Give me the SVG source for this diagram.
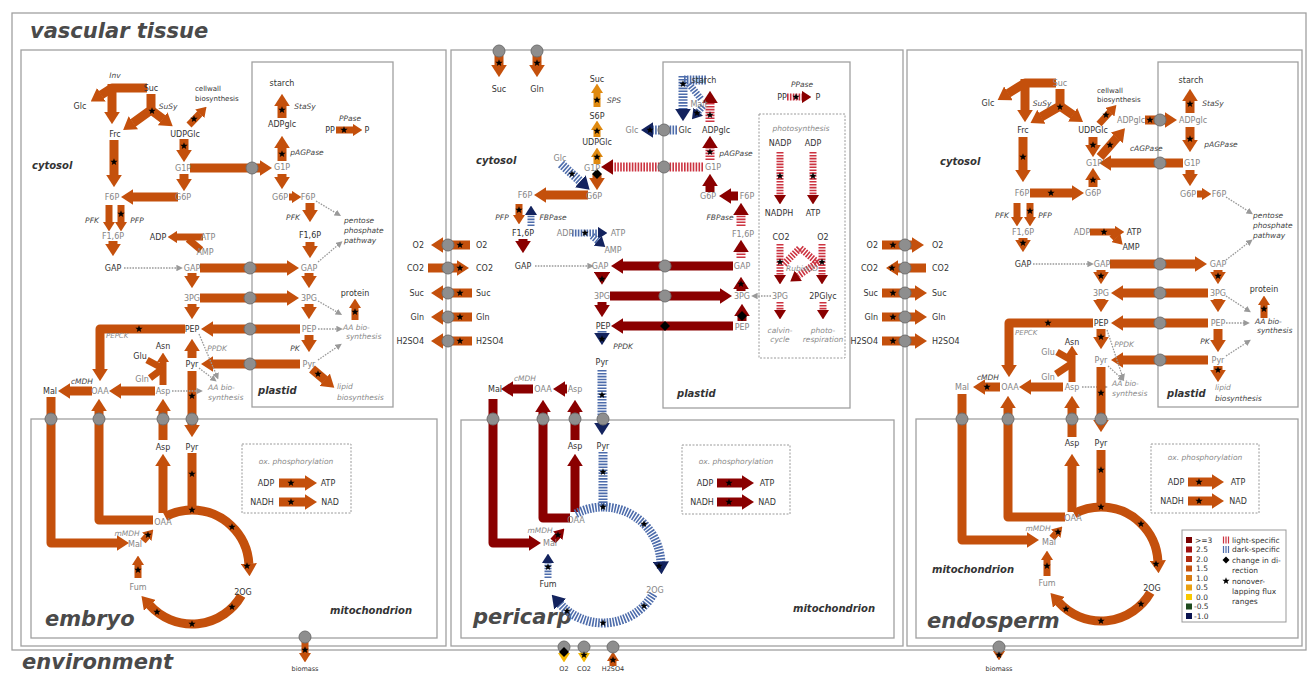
<svg xmlns="http://www.w3.org/2000/svg" width="1309" height="675" viewBox="0 0 1309 675">
<style>
text{font-family:"DejaVu Sans","Liberation Sans",sans-serif;font-size:8px;fill:#333;text-anchor:middle;dominant-baseline:central}
.g{fill:#858585}
.i{font-style:italic;fill:#444;font-size:7.5px}
.ig{font-style:italic;fill:#8a8a8a;font-size:7.5px}
.sm{font-size:7px}
.xs{font-size:6.5px}
.s{text-anchor:start}
.e{text-anchor:end}
.c{font-size:10px;font-weight:bold;font-style:italic;fill:#333;text-anchor:start}
.big{font-size:21px;font-weight:bold;font-style:italic;fill:#4a4a4a;text-anchor:start}
.lg{font-size:7.5px;text-anchor:start}
.box{fill:none;stroke:#a0a0a0;stroke-width:1.3}
.dbox{fill:none;stroke:#9a9a9a;stroke-width:1;stroke-dasharray:2 1.5}
.a{fill:none;stroke-width:9;stroke-linejoin:round}
.t{stroke-width:7}
.O{stroke:#c4500c}.R{stroke:#8a0000}.L{stroke:#e08a10}.Y{stroke:#f2b705}
.SB{stroke:#4d6cab;stroke-dasharray:1.6 1.3}
.SR{stroke:#cc3340;stroke-dasharray:1.6 1.3}
.mO{marker-end:url(#hO)}.mR{marker-end:url(#hR)}.mL{marker-end:url(#hL)}.mY{marker-end:url(#hY)}.mB{marker-end:url(#hB)}
.d{fill:none;stroke:#9a9a9a;stroke-width:1.3;stroke-dasharray:1.6 1.2;marker-end:url(#hG)}
</style>
<defs>
<marker id="hO" viewBox="0 0 14 18" refX="0.5" refY="9" markerWidth="1.4" markerHeight="1.8" orient="auto" markerUnits="strokeWidth"><path d="M0,0L14,9L0,18z" fill="#c4500c"/></marker>
<marker id="hR" viewBox="0 0 14 18" refX="0.5" refY="9" markerWidth="1.4" markerHeight="1.8" orient="auto" markerUnits="strokeWidth"><path d="M0,0L14,9L0,18z" fill="#8a0000"/></marker>
<marker id="hL" viewBox="0 0 14 18" refX="0.5" refY="9" markerWidth="1.4" markerHeight="1.8" orient="auto" markerUnits="strokeWidth"><path d="M0,0L14,9L0,18z" fill="#e08a10"/></marker>
<marker id="hY" viewBox="0 0 14 18" refX="0.5" refY="9" markerWidth="1.4" markerHeight="1.8" orient="auto" markerUnits="strokeWidth"><path d="M0,0L14,9L0,18z" fill="#f2b705"/></marker>
<marker id="hB" viewBox="0 0 14 18" refX="0.5" refY="9" markerWidth="1.4" markerHeight="1.8" orient="auto" markerUnits="strokeWidth"><path d="M0,0L14,9L0,18z" fill="#13235e"/></marker>
<marker id="hG" viewBox="0 0 10 10" refX="1" refY="5" markerWidth="5" markerHeight="5" orient="auto" markerUnits="strokeWidth"><path d="M0,0L10,5L0,10z" fill="#999"/></marker>
<path id="st" d="M0,-3.8L0.94,-1.29L3.61,-1.17L1.52,0.49L2.23,3.07L0,1.6L-2.23,3.07L-1.52,0.49L-3.61,-1.17L-0.94,-1.29Z" fill="#000"/>
<path id="dm" d="M0,-5L5,0L0,5L-5,0Z" fill="#000"/>
<circle id="tc" r="6" fill="#8e8e8e" stroke="#707070" stroke-width="1"/>
</defs>
<rect width="1309" height="675" fill="#fff"/>

<g id="compartments">
<rect class="box" x="12" y="13" width="1294" height="637"/>
<rect class="box" x="21" y="50" width="425" height="596"/>
<rect class="box" x="451" y="50" width="452" height="596"/>
<rect class="box" x="907" y="50" width="395" height="596"/>
<rect class="box" x="31" y="419" width="406" height="219"/>
<rect class="box" x="461" y="420" width="433" height="218"/>
<rect class="box" x="916" y="419" width="382" height="219"/>
<rect class="box" x="252" y="62" width="141" height="345"/>
<rect class="box" x="663" y="62" width="187" height="346"/>
<rect class="box" x="1158" y="62" width="140" height="345"/>
<rect class="dbox" x="759" y="114" width="86" height="244"/>
<rect class="dbox" x="242" y="444" width="109" height="69"/>
<rect class="dbox" x="682" y="445" width="108" height="69"/>
<rect class="dbox" x="1151" y="444" width="108" height="69"/>
<text class="big" x="30" y="31">vascular tissue</text>
<text class="big" x="22" y="662">environment</text>
<text class="big" x="45" y="619">embryo</text>
<text class="big" x="473" y="617">pericarp</text>
<text class="big" x="927" y="621">endosperm</text>
<text class="c" x="32" y="165">cytosol</text>
<text class="c" x="476" y="160">cytosol</text>
<text class="c" x="940" y="161">cytosol</text>
<text class="c" x="258" y="390">plastid</text>
<text class="c" x="677" y="393">plastid</text>
<text class="c" x="1167" y="393">plastid</text>
<text class="c" x="330" y="610">mitochondrion</text>
<text class="c" x="793" y="608">mitochondrion</text>
<text class="c" x="932" y="569">mitochondrion</text>
<text class="ig" x="296" y="461">ox. phosphorylation</text>
<text class="ig" x="736" y="461">ox. phosphorylation</text>
<text class="ig" x="1205" y="457">ox. phosphorylation</text>
<text class="ig" x="801" y="128">photosynthesis</text>
</g>

<g id="connectors">
<path class="a O mO" d="M147,88H112L101,95"/>
<path class="a O mO" d="M112,84V112"/>
<path class="a O mO" d="M151,94V110L133,123"/>
<path class="a O mO" d="M151,110L163,119"/>
<path class="a t O mO" d="M189,125L200,113.5"/>
<path class="a O mO" d="M114,140V175"/>
<path class="a O mO" d="M184,139V150"/>
<path class="a O mO" d="M190,168H260"/>
<path class="a O mO" d="M184,174V179"/>
<path class="a O mO" d="M178,197H133"/>
<path class="a t O mO" d="M109,205V222"/>
<path class="a t O mO" d="M121,205V222"/>
<path class="a O mO" d="M113,241V244"/>
<path class="a t O mO" d="M203,237H177"/>
<path class="a t O" d="M201,250L188,239"/>
<path class="a O mO" d="M282,118V106"/>
<path class="a O mO" d="M282,161V148"/>
<path class="a t O mO" d="M336,130H353"/>
<path class="a O mO" d="M282,174V177"/>
<path class="a t O mO" d="M289,197H292"/>
<path class="a O mO" d="M310,203V210"/>
<path class="a O mO" d="M310,242V246"/>
<path class="d" d="M316,201L336,213"/>
<path class="d" d="M318,262L338,245"/>
<path class="a O mO" d="M200,268H287"/>
<path class="d" d="M124,268H177"/>
<path class="a O mO" d="M192,273V276"/>
<path class="a O mO" d="M309,273V276"/>
<path class="a O mO" d="M200,298H287"/>
<path class="a O mO" d="M192,304V307"/>
<path class="a O mO" d="M309,304V307"/>
<path class="a O mO" d="M300,329H213"/>
<path class="a O mO" d="M309,335V340"/>
<path class="a O mO" d="M300,364H213"/>
<path class="a O mO" d="M192,358V351"/>
<path class="a O mO" d="M192,371V425"/>
<path class="a O mO" d="M312,369L325,380"/>
<path class="a t O mO" d="M355,320V308"/>
<path class="d" d="M318,301L337,312"/>
<path class="d" d="M318,329H337"/>
<path class="d" d="M318,360L337,347"/>
<path class="a O mO" d="M185,329H100V369"/>
<path class="a t O mO" d="M163,385V362"/>
<path class="a t O" d="M147,360L162,368"/>
<path class="a t O" d="M150,378L162,369"/>
<path class="a O mO" d="M155,391H121"/>
<path class="a O mO" d="M92,391H70"/>
<path class="d" d="M172,391H197"/>
<path class="d" d="M199,334L216,374"/>
<path class="d" d="M199,368L212,378"/>
<path class="a O mO" d="M51,397V543H117"/>
<path class="a O mO" d="M153,520H99V411"/>
<path class="a O mO" d="M163,513V466"/>
<path class="a O mO" d="M163,440V411"/>
<path class="a O" d="M192,453V510"/>
<path class="a t O mO" d="M138,578V565"/>
<path class="a t O mO" d="M143,541L147,536.5"/>
<path class="a O" d="M165.2,516.7A57,57 0 0 1 192,510"/>
<path class="a O mO" d="M192,510A57,57 0 0 1 248.9,564"/>
<path class="a O mO" d="M241.4,595.5A57,57 0 0 1 149.6,605.1"/>
<path class="a t O mO" d="M305,637V653"/>
<path class="a O mO" d="M279,483H305"/>
<path class="a O mO" d="M279,502H305"/>
<path class="a O mO" d="M448,245H443"/>
<path class="a O" d="M428,268H448"/>
<path class="a O mO" d="M448,293H443"/>
<path class="a O mO" d="M448,317H443"/>
<path class="a O mO" d="M448,341H443"/>
<path class="a O" d="M448,245H470"/>
<path class="a O mO" d="M448,268H457"/>
<path class="a O" d="M448,293H472"/>
<path class="a O" d="M448,317H472"/>
<path class="a O" d="M448,341H472"/>
<path class="a O" d="M882,245H905"/>
<path class="a O mO" d="M905,268H898"/>
<path class="a O" d="M882,293H905"/>
<path class="a O" d="M882,317H905"/>
<path class="a O" d="M882,341H905"/>
<path class="a O mO" d="M905,245H912"/>
<path class="a O" d="M905,268H926"/>
<path class="a O mO" d="M905,293H915"/>
<path class="a O mO" d="M905,317H915"/>
<path class="a O mO" d="M905,341H915"/>
<path class="a O mO" d="M499,51V65"/>
<path class="a O mO" d="M537,51V65"/>
<path class="a t L mL" d="M597,107V93"/>
<path class="a t L mL" d="M597,137V130"/>
<path class="a t L mL" d="M597,164V157"/>
<path class="a O mO" d="M597,174V178"/>
<path class="a SB mB" d="M561,164L580.6,181.6"/>
<path class="a SR mR" d="M703,167H613"/>
<path class="a SB mB" d="M677,130H653"/>
<path class="a O mO" d="M588,195H546"/>
<path class="a t O mO" d="M519,204V215"/>
<path class="a t SB mB" d="M531,226V215"/>
<path class="a R mR" d="M523,239V241"/>
<path class="a t SB mB" d="M572,233H598"/>
<path class="a t SB mB" d="M592,236L598,241"/>
<path class="a SB" d="M684,80H707"/>
<path class="a SB mB" d="M683,76V109"/>
<path class="a t SB" d="M689,84L701,99"/>
<path class="a t SB mB" d="M703,106L698,112"/>
<path class="a SR mR" d="M710,122V103"/>
<path class="a SR mR" d="M710,160V148"/>
<path class="a R mR" d="M710,192V186"/>
<path class="a R mR" d="M738,196H731"/>
<path class="a SR mR" d="M741,226V215"/>
<path class="a SR mR" d="M741,258V252"/>
<path class="a t SR mR" d="M787,97H802"/>
<path class="a t SR mR" d="M780,152V195"/>
<path class="a t SR mR" d="M813,152V195"/>
<path class="a t SR mR" d="M780,244V275"/>
<path class="a t SR mR" d="M822,244V275"/>
<path class="a t SR" d="M784,264L800,248L818,263"/>
<path class="a t SR mR" d="M818,262L798,276"/>
<path class="a t SR mR" d="M780,302V310"/>
<path class="a t SR mR" d="M823,302V310"/>
<path class="d" d="M771,296H757"/>
<path class="a R mR" d="M733,266H623"/>
<path class="d" d="M535,266H588"/>
<path class="a R mR" d="M741,291V289"/>
<path class="a R mR" d="M602,272V272.5"/>
<path class="a R mR" d="M610,296H720"/>
<path class="a R mR" d="M602,302V305"/>
<path class="a R mR" d="M742,321V316"/>
<path class="a R mR" d="M733,326H623"/>
<path class="a SB mB" d="M602,331V333"/>
<path class="a SB mB" d="M602,370V423"/>
<path class="a R mR" d="M533,389H513"/>
<path class="a R mR" d="M567,389H565"/>
<path class="a R mR" d="M493,399V543H529"/>
<path class="a R mR" d="M570,518H543V412"/>
<path class="a R mR" d="M575,512V466"/>
<path class="a R mR" d="M575,440V412"/>
<path class="a SB" d="M603,452V507"/>
<path class="a t SB mB" d="M548,578V563"/>
<path class="a t R mR" d="M553,541L558,535.5"/>
<path class="a SB" d="M575.8,513.8A58,58 0 0 1 603,507"/>
<path class="a SB mB" d="M603,507A58,58 0 0 1 660.9,562"/>
<path class="a SB mB" d="M653.2,594A58,58 0 0 1 559.9,603.8"/>
<path class="a R mR" d="M717,483H742"/>
<path class="a R mR" d="M717,502H742"/>
<path class="a t Y mY" d="M564,647V653"/>
<path class="a t Y mY" d="M584,647V653"/>
<path class="a t O mO" d="M613,666V661"/>
<path class="a O mO" d="M1056,83H1025L1008,93.5"/>
<path class="a O mO" d="M1025,79V110"/>
<path class="a O mO" d="M1060,89V106L1041,117"/>
<path class="a O mO" d="M1060,106L1073,115"/>
<path class="a t O mO" d="M1099,124L1110,112"/>
<path class="a O mO" d="M1145,120H1165"/>
<path class="a O mO" d="M1190,113V101"/>
<path class="a O mO" d="M1190,127V140"/>
<path class="a O mO" d="M1183,163H1111"/>
<path class="a O mO" d="M1093,137V145"/>
<path class="a O mO" d="M1100,157L1117,137.5"/>
<path class="a O mO" d="M1023,137V170"/>
<path class="a O mO" d="M1030,193H1072"/>
<path class="a O mO" d="M1093,187V180"/>
<path class="a O mO" d="M1190,170V174"/>
<path class="a t O mO" d="M1197,194H1202"/>
<path class="d" d="M1226,197L1248,211"/>
<path class="d" d="M1226,260L1248,243"/>
<path class="a t O mO" d="M1017,203V217"/>
<path class="a t O mO" d="M1030,203V217"/>
<path class="a O mO" d="M1023,238V240"/>
<path class="a t O mO" d="M1090,232H1115"/>
<path class="a t O mO" d="M1112,234L1116,238"/>
<path class="d" d="M1033,264H1088"/>
<path class="a O mO" d="M1110,264H1195"/>
<path class="a O mO" d="M1101,270V272"/>
<path class="a O mO" d="M1218,270V272"/>
<path class="a O mO" d="M1208,293H1123"/>
<path class="d" d="M1226,296L1246,309"/>
<path class="a t O mO" d="M1264,318V305"/>
<path class="a O mO" d="M1101,299V300"/>
<path class="a O mO" d="M1218,299V300"/>
<path class="a O mO" d="M1208,323H1123"/>
<path class="d" d="M1226,323H1244"/>
<path class="a O mO" d="M1093,323H1009V365"/>
<path class="a O mO" d="M1101,329V337"/>
<path class="a O mO" d="M1218,329V340"/>
<path class="a O mO" d="M1208,360H1123"/>
<path class="d" d="M1226,356L1246,343"/>
<path class="a O mO" d="M1218,366V370"/>
<path class="d" d="M1107,330L1122,375"/>
<path class="d" d="M1108,366L1120,377"/>
<path class="a t O mO" d="M1072,382V355"/>
<path class="a t O" d="M1057,352L1071,360"/>
<path class="a t O" d="M1056,374L1071,364"/>
<path class="a O mO" d="M1063,387H1031"/>
<path class="a O mO" d="M1000,387H985"/>
<path class="d" d="M1082,387H1102"/>
<path class="a O mO" d="M1101,367V420"/>
<path class="a O mO" d="M962,394V540H1027"/>
<path class="a O mO" d="M1065,517H1008V408"/>
<path class="a O mO" d="M1072,512V466"/>
<path class="a O mO" d="M1072,437V408"/>
<path class="a O" d="M1101,450V507"/>
<path class="a t O mO" d="M1047,576V560"/>
<path class="a t O mO" d="M1052,538L1056,533.5"/>
<path class="a O" d="M1074.2,513.7A57,57 0 0 1 1101,507"/>
<path class="a O mO" d="M1101,507A57,57 0 0 1 1157.9,561"/>
<path class="a O mO" d="M1150.4,592.5A57,57 0 0 1 1058.6,602.1"/>
<path class="a O mO" d="M1188,482H1212"/>
<path class="a O mO" d="M1188,501H1212"/>
<path class="a t O mO" d="M999,647V651"/>
</g>

<g id="transporters">
<use href="#tc" x="252" y="168"/><use href="#tc" x="250" y="268"/><use href="#tc" x="250" y="298"/><use href="#tc" x="250" y="329"/><use href="#tc" x="250" y="364"/>
<use href="#tc" x="51" y="419"/><use href="#tc" x="99" y="419"/><use href="#tc" x="163" y="419"/><use href="#tc" x="192" y="419"/><use href="#tc" x="305" y="637"/>
<use href="#tc" x="448" y="245"/><use href="#tc" x="448" y="268"/><use href="#tc" x="448" y="293"/><use href="#tc" x="448" y="317"/><use href="#tc" x="448" y="341"/>
<use href="#tc" x="905" y="245"/><use href="#tc" x="905" y="268"/><use href="#tc" x="905" y="293"/><use href="#tc" x="905" y="317"/><use href="#tc" x="905" y="341"/>
<use href="#tc" x="499" y="51"/><use href="#tc" x="537" y="51"/><use href="#tc" x="664" y="130"/><use href="#tc" x="664" y="167"/><use href="#tc" x="665" y="266"/><use href="#tc" x="665" y="296"/>
<use href="#tc" x="493" y="419"/><use href="#tc" x="543" y="419"/><use href="#tc" x="575" y="419"/><use href="#tc" x="603" y="419"/>
<use href="#tc" x="564" y="647"/><use href="#tc" x="584" y="647"/><use href="#tc" x="613" y="647"/>
<use href="#tc" x="1160" y="120"/><use href="#tc" x="1160" y="163"/><use href="#tc" x="1160" y="264"/><use href="#tc" x="1160" y="293"/><use href="#tc" x="1160" y="323"/><use href="#tc" x="1160" y="360"/>
<use href="#tc" x="962" y="419"/><use href="#tc" x="1008" y="419"/><use href="#tc" x="1072" y="419"/><use href="#tc" x="1101" y="419"/><use href="#tc" x="999" y="647"/>
</g>

<g id="marks">
<use href="#st" x="152" y="111"/><use href="#st" x="194" y="119"/><use href="#st" x="114" y="162"/><use href="#st" x="184" y="146"/><use href="#st" x="121" y="214"/><use href="#st" x="282" y="110"/><use href="#st" x="282" y="154"/><use href="#st" x="344" y="130"/><use href="#st" x="192" y="396"/><use href="#st" x="318" y="374"/><use href="#st" x="355" y="312"/><use href="#st" x="139" y="329"/><use href="#st" x="192" y="474"/><use href="#st" x="138" y="570"/><use href="#st" x="148" y="535"/><use href="#st" x="192" y="510"/><use href="#st" x="232" y="527"/><use href="#st" x="247" y="566"/><use href="#st" x="232" y="607"/><use href="#st" x="192" y="624"/><use href="#st" x="157" y="612"/><use href="#st" x="305" y="650"/><use href="#st" x="291" y="483"/><use href="#st" x="291" y="502"/>
<use href="#st" x="460" y="245"/><use href="#st" x="460" y="268"/><use href="#st" x="460" y="293"/><use href="#st" x="460" y="317"/><use href="#st" x="460" y="341"/>
<use href="#st" x="893" y="245"/><use href="#st" x="892" y="268"/><use href="#st" x="893" y="293"/><use href="#st" x="893" y="317"/><use href="#st" x="893" y="341"/>
<use href="#st" x="499" y="63"/><use href="#st" x="537" y="63"/><use href="#st" x="597" y="100"/><use href="#st" x="597" y="131"/><use href="#st" x="597" y="157"/><use href="#st" x="572" y="174"/><use href="#st" x="650" y="130"/><use href="#st" x="519" y="210"/><use href="#st" x="585" y="233"/><use href="#st" x="683" y="84"/><use href="#st" x="697" y="113"/><use href="#st" x="710" y="115"/><use href="#st" x="710" y="152"/><use href="#st" x="796" y="97"/><use href="#st" x="780" y="176"/><use href="#st" x="813" y="176"/><use href="#st" x="780" y="262"/><use href="#st" x="822" y="262"/><use href="#st" x="741" y="284"/><use href="#st" x="602" y="279"/><use href="#st" x="602" y="339"/><use href="#st" x="602" y="395"/><use href="#st" x="603" y="472"/><use href="#st" x="548" y="567"/><use href="#st" x="558" y="535"/><use href="#st" x="603" y="507"/><use href="#st" x="644" y="524"/><use href="#st" x="659" y="566"/><use href="#st" x="644" y="606"/><use href="#st" x="603" y="623"/><use href="#st" x="567" y="611"/><use href="#st" x="729" y="483"/><use href="#st" x="729" y="502"/><use href="#st" x="584" y="655"/><use href="#st" x="613" y="660"/>
<use href="#st" x="1060" y="107"/><use href="#st" x="1106" y="115"/><use href="#st" x="1150" y="120"/><use href="#st" x="1190" y="104"/><use href="#st" x="1190" y="139"/><use href="#st" x="1093" y="145"/><use href="#st" x="1110" y="145"/><use href="#st" x="1023" y="157"/><use href="#st" x="1051" y="193"/><use href="#st" x="1093" y="180"/><use href="#st" x="1030" y="211"/><use href="#st" x="1023" y="243"/><use href="#st" x="1104" y="232"/><use href="#st" x="1101" y="276"/><use href="#st" x="1218" y="276"/><use href="#st" x="1264" y="309"/><use href="#st" x="1048" y="323"/><use href="#st" x="1101" y="337"/><use href="#st" x="1218" y="370"/><use href="#st" x="987" y="387"/><use href="#st" x="1101" y="393"/><use href="#st" x="1101" y="470"/><use href="#st" x="1047" y="566"/><use href="#st" x="1058" y="532"/><use href="#st" x="1101" y="507"/><use href="#st" x="1141" y="524"/><use href="#st" x="1156" y="564"/><use href="#st" x="1141" y="604"/><use href="#st" x="1101" y="621"/><use href="#st" x="1066" y="609"/><use href="#st" x="1199" y="482"/><use href="#st" x="1199" y="501"/><use href="#st" x="999" y="655"/>
<use href="#dm" x="597" y="174"/><use href="#dm" x="742" y="316"/><use href="#dm" x="665" y="326"/><use href="#dm" x="564" y="652"/>
</g>

<g id="embryo-nodes">
<g id="e-inv"><text class="i" x="115" y="75">Inv</text></g>
<g id="e-suc"><text x="151" y="88">Suc</text></g>
<g id="e-glc"><text x="80" y="106">Glc</text></g>
<g id="e-susy"><text class="i" x="168" y="106">SuSy</text></g>
<g id="e-cellwall"><text class="sm s" x="195" y="89">cellwall</text><text class="sm s" x="195" y="99">biosynthesis</text></g>
<g id="e-frc"><text x="115" y="134">Frc</text></g>
<g id="e-udpglc"><text x="185" y="134">UDPGlc</text></g>
<g id="e-g1p"><text class="g" x="183" y="168">G1P</text></g>
<g id="e-g6p"><text class="g" x="183" y="197">G6P</text></g>
<g id="e-f6p"><text class="g" x="112" y="197">F6P</text></g>
<g id="e-pfk"><text class="i" x="92" y="220">PFK</text></g>
<g id="e-pfp"><text class="i" x="137" y="220">PFP</text></g>
<g id="e-f16p"><text class="g" x="113" y="236">F1,6P</text></g>
<g id="e-adp"><text x="158" y="237">ADP</text></g>
<g id="e-atp"><text class="g" x="208" y="237">ATP</text></g>
<g id="e-amp"><text class="g" x="205" y="252">AMP</text></g>
<g id="e-starch"><text x="282" y="83">starch</text></g>
<g id="e-stasy"><text class="i" x="305" y="106">StaSy</text></g>
<g id="e-adpglc"><text x="282" y="124">ADPglc</text></g>
<g id="e-ppase"><text class="i" x="350" y="118">PPase</text><text x="330" y="130">PP</text><text x="367" y="130">P</text></g>
<g id="e-pagpase"><text class="i" x="307" y="152">pAGPase</text></g>
<g id="e-g1p-pl"><text class="g" x="282" y="167">G1P</text></g>
<g id="e-g6p-pl"><text class="g" x="280" y="197">G6P</text></g>
<g id="e-f6p-pl"><text class="g" x="308" y="197">F6P</text></g>
<g id="e-pfk-pl"><text class="i" x="293" y="217">PFK</text></g>
<g id="e-ppp"><text class="i s" x="344" y="220">pentose</text><text class="i s" x="344" y="230">phosphate</text><text class="i s" x="344" y="240">pathway</text></g>
<g id="e-f16p-pl"><text x="310" y="235">F1,6P</text></g>
<g id="e-gap"><text x="113" y="268">GAP</text></g>
<g id="e-gap-c"><text class="g" x="192" y="268">GAP</text></g>
<g id="e-gap-pl"><text class="g" x="309" y="268">GAP</text></g>
<g id="e-3pg"><text class="g" x="192" y="298">3PG</text></g>
<g id="e-3pg-pl"><text class="g" x="309" y="298">3PG</text></g>
<g id="e-protein"><text x="355" y="293">protein</text></g>
<g id="e-aa-pl"><text class="ig s" x="343" y="327">AA bio-</text><text class="ig s" x="346" y="336">synthesis</text></g>
<g id="e-pep"><text x="192" y="329">PEP</text></g>
<g id="e-pep-pl"><text class="g" x="309" y="329">PEP</text></g>
<g id="e-pepck"><text class="ig s sm" x="106" y="336">PEPCK</text></g>
<g id="e-ppdk"><text class="ig" x="217" y="348">PPDK</text></g>
<g id="e-pk"><text class="i" x="295" y="348">PK</text></g>
<g id="e-asn"><text x="163" y="346">Asn</text></g>
<g id="e-glu"><text x="140" y="356">Glu</text></g>
<g id="e-gln"><text class="g" x="142" y="379">Gln</text></g>
<g id="e-pyr"><text x="192" y="364">Pyr</text></g>
<g id="e-pyr-pl"><text class="g" x="309" y="364">Pyr</text></g>
<g id="e-lipid"><text class="ig s" x="337" y="386">lipid</text><text class="ig s" x="337" y="397">biosynthesis</text></g>
<g id="e-aa-c"><text class="ig s" x="208" y="387">AA bio-</text><text class="ig s" x="208" y="397">synthesis</text></g>
<g id="e-cmdh"><text class="i" x="82" y="381">cMDH</text></g>
<g id="e-mal"><text x="50" y="391">Mal</text></g>
<g id="e-oaa"><text class="g" x="100" y="391">OAA</text></g>
<g id="e-asp"><text class="g" x="163" y="391">Asp</text></g>
<g id="e-asp-m"><text x="163" y="447">Asp</text></g>
<g id="e-pyr-m"><text x="192" y="447">Pyr</text></g>
<g id="e-oaa-m"><text class="g" x="163" y="522">OAA</text></g>
<g id="e-mmdh"><text class="ig" x="127" y="533">mMDH</text></g>
<g id="e-mal-m"><text class="g" x="135" y="544">Mal</text></g>
<g id="e-fum"><text class="g" x="138" y="587">Fum</text></g>
<g id="e-2og"><text x="243" y="592">2OG</text></g>
<g id="e-ox"><text x="266" y="483">ADP</text><text x="328" y="483">ATP</text><text x="262" y="502">NADH</text><text x="330" y="502">NAD</text></g>
<g id="e-biomass"><text class="xs" x="305" y="669">biomass</text></g>
</g>

<g id="exchange-nodes">
<g id="x-e"><text class="e" x="424" y="245">O2</text><text class="e" x="424" y="268">CO2</text><text class="e" x="424" y="293">Suc</text><text class="e" x="424" y="317">Gln</text><text class="e" x="424" y="341">H2SO4</text></g>
<g id="x-pl"><text class="s" x="476" y="245">O2</text><text class="s" x="476" y="268">CO2</text><text class="s" x="476" y="293">Suc</text><text class="s" x="476" y="317">Gln</text><text class="s" x="476" y="341">H2SO4</text></g>
<g id="x-pr"><text class="e" x="878" y="245">O2</text><text class="e" x="878" y="268">CO2</text><text class="e" x="878" y="293">Suc</text><text class="e" x="878" y="317">Gln</text><text class="e" x="878" y="341">H2SO4</text></g>
<g id="x-n"><text class="s" x="932" y="245">O2</text><text class="s" x="932" y="268">CO2</text><text class="s" x="932" y="293">Suc</text><text class="s" x="932" y="317">Gln</text><text class="s" x="932" y="341">H2SO4</text></g>
</g>

<g id="pericarp-nodes">
<g id="p-suc-in"><text x="499" y="89">Suc</text></g>
<g id="p-gln-in"><text x="537" y="89">Gln</text></g>
<g id="p-suc"><text x="597" y="79">Suc</text></g>
<g id="p-sps"><text class="i" x="614" y="100">SPS</text></g>
<g id="p-s6p"><text x="597" y="116">S6P</text></g>
<g id="p-udpglc"><text x="597" y="142">UDPGlc</text></g>
<g id="p-g1p"><text class="g" x="592" y="168">G1P</text></g>
<g id="p-glc"><text class="g" x="560" y="158">Glc</text></g>
<g id="p-glc2"><text class="g" x="632" y="130">Glc</text></g>
<g id="p-g6p"><text class="g" x="594" y="196">G6P</text></g>
<g id="p-f6p"><text class="g" x="525" y="195">F6P</text></g>
<g id="p-pfp"><text class="i" x="502" y="217">PFP</text></g>
<g id="p-fbpase"><text class="i" x="553" y="217">FBPase</text></g>
<g id="p-f16p"><text x="523" y="233">F1,6P</text></g>
<g id="p-adp"><text class="g" x="565" y="233">ADP</text></g>
<g id="p-atp"><text class="g" x="618" y="233">ATP</text></g>
<g id="p-amp"><text class="g" x="613" y="250">AMP</text></g>
<g id="p-starch"><text x="704" y="80">starch</text></g>
<g id="p-malt"><text class="g" x="699" y="104">Malt</text></g>
<g id="p-glc-pl"><text x="685" y="130">Glc</text></g>
<g id="p-adpglc"><text x="716" y="130">ADPglc</text></g>
<g id="p-pagpase"><text class="i" x="736" y="153">pAGPase</text></g>
<g id="p-g1p-pl"><text class="g" x="713" y="167">G1P</text></g>
<g id="p-g6p-pl"><text class="g" x="708" y="196">G6P</text></g>
<g id="p-f6p-pl"><text class="g" x="747" y="196">F6P</text></g>
<g id="p-fbpase-pl"><text class="i" x="720" y="217">FBPase</text></g>
<g id="p-f16p-pl"><text class="g" x="743" y="234">F1,6P</text></g>
<g id="p-ppase"><text class="i" x="802" y="84">PPase</text><text x="782" y="97">PP</text><text x="818" y="97">P</text></g>
<g id="p-nadp"><text x="780" y="143">NADP</text></g>
<g id="p-adp-ps"><text x="813" y="143">ADP</text></g>
<g id="p-nadph"><text x="779" y="213">NADPH</text></g>
<g id="p-atp-ps"><text x="813" y="213">ATP</text></g>
<g id="p-co2"><text x="781" y="237">CO2</text></g>
<g id="p-o2"><text x="823" y="237">O2</text></g>
<g id="p-rubisco"><text class="ig" x="802" y="268">RubisCO</text></g>
<g id="p-3pg-ps"><text class="g" x="780" y="296">3PG</text></g>
<g id="p-2pglyc"><text x="823" y="296">2PGlyc</text></g>
<g id="p-calvin"><text class="ig" x="780" y="330">calvin-</text><text class="ig" x="780" y="339">cycle</text></g>
<g id="p-photoresp"><text class="ig" x="823" y="330">photo-</text><text class="ig" x="823" y="339">respiration</text></g>
<g id="p-gap"><text x="523" y="266">GAP</text></g>
<g id="p-gap-c"><text class="g" x="600" y="266">GAP</text></g>
<g id="p-gap-pl"><text class="g" x="742" y="266">GAP</text></g>
<g id="p-3pg"><text class="g" x="602" y="296">3PG</text></g>
<g id="p-3pg-pl"><text class="g" x="742" y="296">3PG</text></g>
<g id="p-pep"><text x="603" y="326">PEP</text></g>
<g id="p-pep-pl"><text class="g" x="742" y="327">PEP</text></g>
<g id="p-ppdk"><text class="i" x="623" y="346">PPDK</text></g>
<g id="p-pyr"><text x="602" y="362">Pyr</text></g>
<g id="p-cmdh"><text class="ig" x="525" y="378">cMDH</text></g>
<g id="p-mal"><text x="495" y="389">Mal</text></g>
<g id="p-oaa"><text class="g" x="543" y="389">OAA</text></g>
<g id="p-asp"><text class="g" x="575" y="389">Asp</text></g>
<g id="p-asp-m"><text x="575" y="446">Asp</text></g>
<g id="p-pyr-m"><text x="603" y="446">Pyr</text></g>
<g id="p-oaa-m"><text class="g" x="576" y="520">OAA</text></g>
<g id="p-mmdh"><text class="ig" x="540" y="530">mMDH</text></g>
<g id="p-mal-m"><text class="g" x="550" y="543">Mal</text></g>
<g id="p-fum"><text x="548" y="584">Fum</text></g>
<g id="p-2og"><text class="g" x="655" y="590">2OG</text></g>
<g id="p-ox"><text x="705" y="483">ADP</text><text x="767" y="483">ATP</text><text x="702" y="502">NADH</text><text x="767" y="502">NAD</text></g>
<g id="p-env"><text class="xs" x="564" y="669">O2</text><text class="xs" x="584" y="669">CO2</text><text class="xs" x="613" y="669">H2SO4</text></g>
</g>

<g id="endosperm-nodes">
<g id="n-suc"><text class="g" x="1060" y="83">Suc</text></g>
<g id="n-glc"><text x="988" y="103">Glc</text></g>
<g id="n-susy"><text class="i" x="1042" y="103">SuSy</text></g>
<g id="n-frc"><text x="1023" y="130">Frc</text></g>
<g id="n-udpglc"><text x="1093" y="130">UDPGlc</text></g>
<g id="n-cellwall"><text class="sm s" x="1097" y="91">cellwall</text><text class="sm s" x="1097" y="100">biosynthesis</text></g>
<g id="n-adpglc"><text class="g" x="1131" y="120">ADPglc</text></g>
<g id="n-adpglc-pl"><text class="g" x="1193" y="120">ADPglc</text></g>
<g id="n-starch"><text x="1191" y="80">starch</text></g>
<g id="n-stasy"><text class="i" x="1213" y="103">StaSy</text></g>
<g id="n-pagpase"><text class="i" x="1221" y="144">pAGPase</text></g>
<g id="n-g1p-pl"><text class="g" x="1192" y="163">G1P</text></g>
<g id="n-g1p"><text class="g" x="1094" y="163">G1P</text></g>
<g id="n-cagpase"><text class="i s" x="1130" y="148">cAGPase</text></g>
<g id="n-f6p"><text class="g" x="1022" y="193">F6P</text></g>
<g id="n-g6p"><text class="g" x="1093" y="193">G6P</text></g>
<g id="n-g6p-pl"><text class="g" x="1188" y="194">G6P</text></g>
<g id="n-f6p-pl"><text class="g" x="1219" y="194">F6P</text></g>
<g id="n-ppp"><text class="i s" x="1253" y="215">pentose</text><text class="i s" x="1253" y="225">phosphate</text><text class="i s" x="1253" y="235">pathway</text></g>
<g id="n-pfk"><text class="i" x="1002" y="215">PFK</text></g>
<g id="n-pfp"><text class="i" x="1045" y="215">PFP</text></g>
<g id="n-f16p"><text class="g" x="1023" y="232">F1,6P</text></g>
<g id="n-adp"><text class="g" x="1082" y="232">ADP</text></g>
<g id="n-atp"><text x="1134" y="232">ATP</text></g>
<g id="n-amp"><text x="1131" y="247">AMP</text></g>
<g id="n-gap"><text x="1023" y="264">GAP</text></g>
<g id="n-gap-c"><text class="g" x="1102" y="264">GAP</text></g>
<g id="n-gap-pl"><text class="g" x="1218" y="264">GAP</text></g>
<g id="n-3pg"><text class="g" x="1101" y="293">3PG</text></g>
<g id="n-3pg-pl"><text class="g" x="1218" y="293">3PG</text></g>
<g id="n-protein"><text x="1264" y="289">protein</text></g>
<g id="n-aa-pl"><text class="i s" x="1255" y="321">AA bio-</text><text class="i s" x="1257" y="330">synthesis</text></g>
<g id="n-pep"><text x="1101" y="323">PEP</text></g>
<g id="n-pep-pl"><text class="g" x="1218" y="323">PEP</text></g>
<g id="n-pepck"><text class="ig s sm" x="1015" y="333">PEPCK</text></g>
<g id="n-ppdk"><text class="ig" x="1124" y="344">PPDK</text></g>
<g id="n-pk"><text class="i" x="1205" y="341">PK</text></g>
<g id="n-pyr"><text class="g" x="1101" y="360">Pyr</text></g>
<g id="n-pyr-pl"><text class="g" x="1218" y="360">Pyr</text></g>
<g id="n-lipid"><text class="ig s" x="1215" y="387">lipid</text><text class="i s" x="1215" y="398">biosynthesis</text></g>
<g id="n-aa-c"><text class="ig s" x="1112" y="383">AA bio-</text><text class="ig s" x="1112" y="393">synthesis</text></g>
<g id="n-asn"><text x="1072" y="342">Asn</text></g>
<g id="n-glu"><text class="g" x="1048" y="352">Glu</text></g>
<g id="n-gln"><text class="g" x="1048" y="377">Gln</text></g>
<g id="n-asp"><text class="g" x="1072" y="387">Asp</text></g>
<g id="n-oaa"><text class="g" x="1010" y="387">OAA</text></g>
<g id="n-mal"><text class="g" x="962" y="387">Mal</text></g>
<g id="n-cmdh"><text class="i" x="988" y="377">cMDH</text></g>
<g id="n-asp-m"><text x="1072" y="443">Asp</text></g>
<g id="n-pyr-m"><text x="1101" y="443">Pyr</text></g>
<g id="n-oaa-m"><text class="g" x="1073" y="518">OAA</text></g>
<g id="n-mmdh"><text class="ig" x="1038" y="528">mMDH</text></g>
<g id="n-mal-m"><text class="g" x="1049" y="542">Mal</text></g>
<g id="n-fum"><text class="g" x="1047" y="583">Fum</text></g>
<g id="n-2og"><text x="1152" y="588">2OG</text></g>
<g id="n-ox"><text x="1176" y="482">ADP</text><text x="1238" y="482">ATP</text><text x="1172" y="501">NADH</text><text x="1238" y="501">NAD</text></g>
<g id="n-biomass"><text class="xs" x="999" y="669">biomass</text></g>
</g>

<g id="legend">
<rect x="1182" y="530" width="104" height="92" fill="#fff" stroke="#999" stroke-width="1"/>
<rect x="1186" y="537" width="6" height="6" fill="#7a0000"/>
<rect x="1186" y="546.5" width="6" height="6" fill="#a01010"/>
<rect x="1186" y="556" width="6" height="6" fill="#b02a10"/>
<rect x="1186" y="565.5" width="6" height="6" fill="#c4500c"/>
<rect x="1186" y="575" width="6" height="6" fill="#d87a10"/>
<rect x="1186" y="584.5" width="6" height="6" fill="#eaa010"/>
<rect x="1186" y="594" width="6" height="6" fill="#f8c800"/>
<rect x="1186" y="603.5" width="6" height="6" fill="#1e4a1e"/>
<rect x="1186" y="613" width="6" height="6" fill="#0a1450"/>
<text class="lg" x="1195" y="540">&gt;=3</text>
<text class="lg" x="1196" y="549.5">2.5</text>
<text class="lg" x="1196" y="559">2.0</text>
<text class="lg" x="1196" y="568.5">1.5</text>
<text class="lg" x="1196" y="578">1.0</text>
<text class="lg" x="1196" y="587.5">0.5</text>
<text class="lg" x="1196" y="597">0.0</text>
<text class="lg" x="1194" y="606.5">-0.5</text>
<text class="lg" x="1194" y="616">-1.0</text>
<path d="M1223.5,536.5v7M1226,536.5v7M1228.5,536.5v7" stroke="#cc3340" stroke-width="1.2"/>
<path d="M1223.5,546v7M1226,546v7M1228.5,546v7" stroke="#4d6cab" stroke-width="1.2"/>
<path d="M1226,556.5l3.5,3.5l-3.5,3.5l-3.5,-3.5z" fill="#000"/>
<use href="#st" x="1226" y="581"/>
<text class="lg" x="1232" y="540">light-specific</text>
<text class="lg" x="1232" y="549.5">dark-specific</text>
<text class="lg" x="1232" y="560">change in di-</text>
<text class="lg" x="1232" y="570">rection</text>
<text class="lg" x="1232" y="581">nonover-</text>
<text class="lg" x="1232" y="591">lapping flux</text>
<text class="lg" x="1232" y="601">ranges</text>
</g>
</svg>
